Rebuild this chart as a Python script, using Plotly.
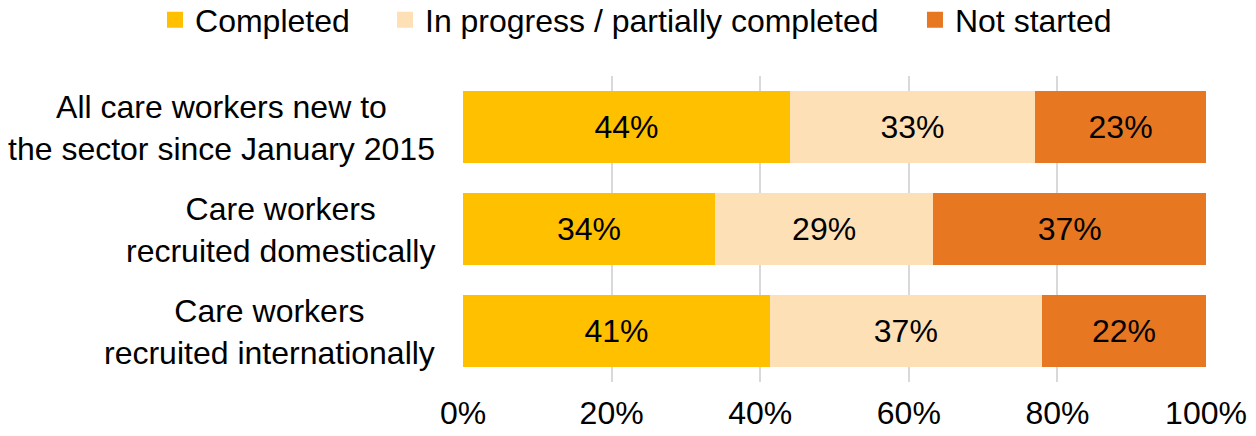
import plotly.graph_objects as go

categories = [
    "All care workers new to<br>the sector since January 2015",
    "Care workers<br>recruited domestically",
    "Care workers<br>recruited internationally",
]
series_names = ["Completed", "In progress / partially completed", "Not started"]
completed = [44.0, 33.9, 41.3]
in_progress = [33.0, 29.4, 36.6]
not_started = [23.0, 36.7, 22.1]
completed_labels = ["44%", "34%", "41%"]
in_progress_labels = ["33%", "29%", "37%"]
not_started_labels = ["23%", "37%", "22%"]
x_tick_vals = [0, 20, 40, 60, 80, 100]
x_tick_text = ["0%", "20%", "40%", "60%", "80%", "100%"]

colors = ["#FFC000", "#FDE0B6", "#E87722"]
FONT = "Liberation Sans, Arial, sans-serif"
FS = 32

fig = go.Figure()
series = [
    (completed, completed_labels),
    (in_progress, in_progress_labels),
    (not_started, not_started_labels),
]
legend_ids = ["legend", "legend2", "legend3"]
for i, ((vals, labs), name) in enumerate(zip(series, series_names)):
    fig.add_trace(go.Bar(
        y=categories, x=vals, name=name, orientation="h",
        marker=dict(color=colors[i], line=dict(width=0)),
        text=labs, textposition="inside", insidetextanchor="middle",
        textfont=dict(family=FONT, size=FS, color="#000000"),
        constraintext="none", hoverinfo="skip",
        showlegend=False,
    ))
# legend-only entries (no data) with a larger swatch
for i, name in enumerate(series_names):
    fig.add_trace(go.Bar(
        y=[None], x=[None], name=name, orientation="h",
        marker=dict(color=colors[i], line=dict(width=4, color=colors[i])),
        showlegend=True, legend=legend_ids[i], hoverinfo="skip",
    ))

# category labels: centred lines, block right-aligned next to the plot
for c in categories:
    fig.add_annotation(
        x=0, xref="paper", y=c, yref="y", text=c, showarrow=False,
        xanchor="right", xshift=-26, align="center", yshift=-1,
        font=dict(family=FONT, size=FS, color="#000000"),
    )

fig.update_layout(
    width=1256, height=436,
    margin=dict(l=463, r=50, t=76, b=54, autoexpand=False),
    paper_bgcolor="white", plot_bgcolor="white",
    barmode="stack", bargap=0.29,
    showlegend=True,
    xaxis=dict(range=[0, 100], tickvals=x_tick_vals, ticktext=x_tick_text,
               showgrid=True, gridcolor="#D9D9D9", gridwidth=1.5,
               zeroline=False, showline=False,
               ticks="outside", ticklen=3, tickcolor="rgba(0,0,0,0)",
               tickfont=dict(family=FONT, size=FS, color="#000000"),
               fixedrange=True),
    yaxis=dict(autorange="reversed", showticklabels=False, showgrid=False,
               zeroline=False, showline=False, ticks=""),
    font=dict(family=FONT, size=FS, color="#000000"),
)

leg_common = dict(orientation="h", yanchor="middle", y=1.183, xanchor="left",
                  font=dict(family=FONT, size=FS, color="#000000"),
                  bgcolor="rgba(0,0,0,0)", borderwidth=0)
fig.update_layout(
    legend=dict(x=-0.4145, **leg_common),
    legend2=dict(x=-0.105, **leg_common),
    legend3=dict(x=0.6083, **leg_common),
)

fig.write_html("out.html", config={"displayModeBar": False},
               post_script="document.body.style.margin='0';")
